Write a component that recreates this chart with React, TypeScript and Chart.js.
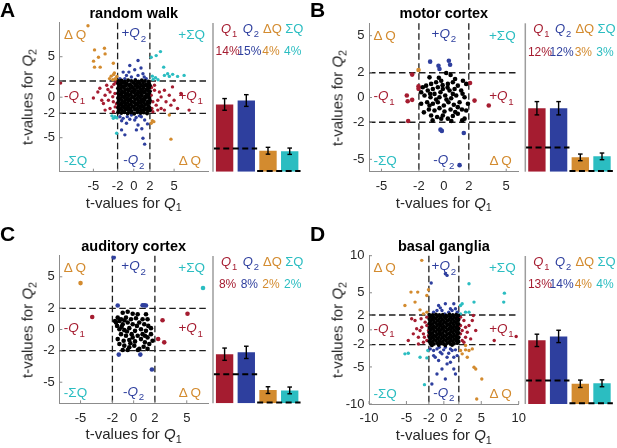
import React, { useEffect, useRef } from 'react';
import { Chart, registerables } from 'chart.js';
Chart.register(...registerables);

const FONT = '"Liberation Sans", Arial, Helvetica, sans-serif';
Chart.defaults.font.family = FONT;
const RED = '#A51C30';
const BLUE = '#2E3F9E';
const ORANGE = '#D38B2F';
const CYAN = '#2BBDC1';
const TEXT = '#262626';

type P = [number, number];

// ---------- shared ----------
const ticksSmall = [-5, -2, 0, 2, 5];
const ticksLarge = [-10, -5, -2, 0, 2, 5, 10];
const thresholds = [-2, 2];
const barCategories = ['Q1', 'Q2', 'ΔQ', 'ΣQ'];
const chanceQ = 4.75;
const chanceDQ = 0.15;

// ---------- A: random walk ----------
const blackA: P[] = [
  [-1.9, 2.0], [-1.5, 2.05], [-1.1, 1.95], [-0.7, 2.1], [-0.3, 2.0], [0.2, 2.05], [0.6, 1.95], [1.0, 2.1], [1.4, 2.0], [1.85, 1.95],
  [-1.95, 1.7], [-1.6, 1.65], [-1.25, 1.75], [-0.85, 1.7], [-0.45, 1.6], [-0.05, 1.75], [0.35, 1.65], [0.75, 1.7], [1.15, 1.75], [1.55, 1.6], [1.9, 1.7],
  [-1.8, 1.4], [-1.4, 1.35], [-1.0, 1.45], [-0.6, 1.4], [-0.2, 1.3], [0.2, 1.45], [0.55, 1.35], [0.95, 1.4], [1.35, 1.45], [1.75, 1.35], [2.0, 1.45],
  [-1.95, 1.1], [-1.6, 1.05], [-1.2, 1.15], [-0.8, 1.0], [-0.4, 1.1], [0.0, 1.05], [0.4, 1.15], [0.8, 1.05], [1.2, 1.1], [1.6, 1.0], [1.9, 1.15],
  [-1.85, 0.8], [-1.45, 0.75], [-1.05, 0.85], [-0.65, 0.8], [-0.25, 0.7], [0.15, 0.85], [0.55, 0.75], [0.95, 0.8], [1.35, 0.7], [1.7, 0.85], [2.0, 0.75],
  [-1.95, 0.5], [-1.55, 0.45], [-1.15, 0.55], [-0.75, 0.5], [-0.35, 0.4], [0.05, 0.55], [0.45, 0.45], [0.85, 0.5], [1.25, 0.55], [1.6, 0.4], [1.9, 0.5],
  [-1.8, 0.2], [-1.4, 0.15], [-1.0, 0.25], [-0.6, 0.2], [-0.2, 0.1], [0.2, 0.25], [0.6, 0.15], [1.0, 0.2], [1.4, 0.1], [1.8, 0.25],
  [-1.95, -0.1], [-1.6, -0.15], [-1.2, -0.05], [-0.8, -0.1], [-0.4, -0.2], [0.0, -0.05], [0.4, -0.15], [0.8, -0.1], [1.2, -0.2], [1.55, -0.05], [1.95, -0.1],
  [-1.85, -0.4], [-1.45, -0.45], [-1.05, -0.35], [-0.65, -0.4], [-0.25, -0.5], [0.15, -0.35], [0.55, -0.45], [0.95, -0.4], [1.35, -0.35], [1.75, -0.5], [2.0, -0.4],
  [-1.95, -0.7], [-1.55, -0.75], [-1.15, -0.65], [-0.75, -0.7], [-0.35, -0.8], [0.05, -0.65], [0.45, -0.75], [0.85, -0.7], [1.25, -0.65], [1.65, -0.8], [1.95, -0.7],
  [-1.8, -1.0], [-1.4, -1.05], [-1.0, -0.95], [-0.6, -1.0], [-0.2, -1.1], [0.2, -0.95], [0.6, -1.05], [1.0, -1.0], [1.4, -0.95], [1.8, -1.1],
  [-1.95, -1.3], [-1.6, -1.35], [-1.2, -1.25], [-0.8, -1.3], [-0.4, -1.4], [0.0, -1.25], [0.4, -1.35], [0.8, -1.3], [1.2, -1.25], [1.6, -1.4], [1.95, -1.3],
  [-1.85, -1.6], [-1.45, -1.65], [-1.05, -1.55], [-0.65, -1.6], [-0.25, -1.7], [0.15, -1.55], [0.55, -1.65], [0.95, -1.6], [1.35, -1.55], [1.75, -1.7], [2.0, -1.6],
  [-1.95, -1.9], [-1.55, -1.95], [-1.15, -1.85], [-0.75, -2.0], [-0.35, -1.9], [0.05, -2.05], [0.45, -1.85], [0.85, -1.95], [1.25, -1.9], [1.65, -2.0],
];
const redA: P[] = [
  [-9.06, 1.76], [-4.45, 0.65], [-3.55, 0.24], [-3.76, -0.78], [-3.14, -0.37], [-2.94, -1.39], [-2.73, 1.27], [-2.53, -1.8],
  [-3.35, 1.47], [-3.96, -0.37], [-2.33, 0.45], [-2.94, 0.65], [-2.53, -0.57], [-3.55, -1.59], [-5.0, -0.1], [-2.2, 1.85],
  [-2.3, -1.2], [-2.6, 0.05], [-4.2, 1.1], [-2.15, -0.8], [-3.2, 0.95], [-2.45, 1.6],
  [5.84, 0.45], [6.86, -1.59], [5.43, -1.39], [4.6, -0.98], [4.0, -0.57], [3.39, -1.39], [2.98, -0.37], [2.57, 0.86],
  [3.18, 0.65], [3.8, 0.86], [3.39, 0.04], [2.78, -0.98], [2.37, -1.8], [4.4, 0.24], [2.57, 1.47], [5.0, -0.37],
  [2.98, -1.59], [2.16, 0.24], [2.37, -0.57], [3.8, -1.59], [4.8, 1.27], [2.2, 1.2], [2.25, -1.4],
];
const blueA: P[] = [
  [0.53, 4.53], [-0.49, 3.92], [0.12, 3.39], [-1.31, 3.1], [1.14, 2.9], [-0.9, 2.69], [-0.29, 2.49], [0.53, 2.69],
  [-1.71, 2.29], [1.55, 2.29], [0.9, 3.6], [-1.1, 2.3], [0.2, 2.2], [1.3, 2.5], [-0.6, 3.1],
  [1.35, -5.8], [1.14, -5.06], [0.33, -4.04], [-1.51, -4.04], [-0.9, -3.22], [-0.49, -2.73], [0.12, -2.82], [0.53, -3.43],
  [-1.31, -2.61], [0.94, -2.41], [-0.29, -2.2], [-1.71, -2.41], [1.35, -2.82], [-1.1, -4.65], [0.7, -2.3], [-0.8, -2.4],
  [1.7, -3.3], [0.3, -2.5], [-1.5, -2.9], [1.0, -3.9],
];
const orangeA: P[] = [
  [-5.67, 8.82], [-4.86, 5.84], [-3.63, 6.04], [-3.55, 5.35], [-4.37, 4.94], [-4.98, 4.45], [-2.53, 4.2], [-4.86, 3.71],
  [-4.16, 3.71], [-2.8, 2.6], [-2.5, 2.8], [-2.3, 2.3], [-2.15, 2.1], [-3.0, 2.3], [-2.4, 3.0], [-2.1, 2.55], [-2.6, 2.15],
  [4.41, -2.2], [2.16, -3.22], [2.49, -3.02], [4.61, -5.18], [2.3, -2.9],
];
const cyanA: P[] = [
  [3.31, 5.63], [2.78, 5.14], [2.16, 4.94], [3.71, 3.71], [4.2, 2.9], [4.82, 2.82], [3.8, 2.69], [2.4, 2.2], [2.7, 2.4],
  [3.0, 2.15], [2.3, 2.6], [6.24, 2.69], [5.43, 2.57], [4.41, 2.57],
  [-2.53, -2.61], [-2.33, -2.41], [-2.12, -2.53], [-2.12, -4.45], [-2.7, -2.3],
];
const barsA = [13.8, 14.6, 4.3, 4.2];
const errA = [1.2, 1.2, 0.7, 0.65];
const pctA = ['14%', '15%', '4%', '4%'];

// ---------- B: motor cortex ----------
const blackB: P[] = [
  [0.19, 1.98], [0.54, 1.82], [-1.15, 1.63], [-1.82, 0.42], [-1.42, 0.96], [-1.02, 1.1], [-0.62, 1.23], [-0.21, 1.36],
  [0.32, 1.1], [0.72, 1.23], [1.12, 0.96], [1.53, 1.36], [1.79, 1.1], [-1.29, 0.56], [-0.88, 0.69], [-0.48, 0.83],
  [-0.08, 0.69], [0.46, 0.56], [0.86, 0.69], [1.39, 0.56], [-1.55, 0.16], [-1.07, 0.02], [-0.75, 0.29], [-0.35, 0.02],
  [0.11, 0.16], [0.59, -0.06], [0.99, 0.16], [1.66, 0.02], [-1.34, -0.38], [-0.88, -0.51], [-0.48, -0.38], [0.0, -0.65],
  [0.37, -0.38], [0.8, -0.59], [1.26, -0.38], [1.93, -0.51], [-1.2, -0.97], [-0.75, -1.05], [-0.35, -0.86], [0.05, -1.13],
  [0.54, -0.97], [0.91, -1.18], [1.45, -0.97], [-1.02, -1.45], [-0.54, -1.58], [-0.08, -1.45], [0.32, -1.71], [0.72, -1.5],
  [1.12, -1.32], [1.66, -1.71], [1.79, -1.05], [-1.82, -0.51], [-1.69, 0.83], [-0.27, 0.42], [0.21, -0.17], [-0.62, -0.17],
  [0.72, 0.29], [1.12, -0.78], [-1.15, -0.65], [-0.21, -1.71], [-0.4, 1.6], [0.9, 1.5], [-1.6, -1.2], [1.47, -1.85],
  [-0.9, -1.85], [0.6, -1.9], [0.3, 0.8], [-0.1, 1.0], [1.5, 0.3], [-1.1, 0.3],
];
const redB: P[] = [
  [-2.54, 1.85], [-2.03, 0.9], [-2.03, 0.7], [-2.97, 0.16], [-2.9, -0.3], [-2.54, -0.19], [-2.86, -1.9],
  [2.1, 1.17], [2.46, -0.25], [3.6, -0.65],
];
const blueB: P[] = [
  [-1.1, 2.9], [-0.43, 2.57], [-0.35, 2.3], [0.4, 2.97], [0.5, 2.65], [-0.27, -2.6], [-0.16, -2.7], [1.6, -2.87], [1.26, -5.47],
];
const orangeB: P[] = [[-2.03, 2.22]];
const cyanB: P[] = [];
const barsB = [12.4, 12.4, 2.8, 3.0];
const errB = [1.3, 1.3, 0.65, 0.65];
const pctB = ['12%', '12%', '3%', '3%'];

// ---------- C: auditory cortex ----------
const blackC: P[] = [
  [-1.03, 1.59], [-0.56, 1.69], [-0.09, 1.5], [0.38, 1.44], [1.16, 1.44], [-1.5, 1.13], [-1.66, 0.66], [-1.19, 0.97],
  [-0.72, 1.13], [-0.25, 0.97], [0.22, 1.06], [1.31, 0.97], [-1.56, 0.34], [-1.03, 0.5], [-0.56, 0.66], [-0.09, 0.5],
  [1.0, 0.5], [1.38, 0.34], [-1.34, 0.03], [-0.88, -0.06], [-0.41, 0.13], [0.13, -0.13], [0.69, 0.03], [1.16, -0.13],
  [1.63, 0.13], [-1.19, -0.44], [-0.72, -0.59], [-0.19, -0.44], [0.38, -0.59], [0.84, -0.44], [1.31, -0.75], [-1.5, -0.91],
  [-0.94, -1.06], [-0.41, -1.0], [0.13, -1.13], [0.69, -0.91], [1.06, -1.22], [1.78, -1.06], [-0.88, -1.53], [-0.41, -1.69],
  [0.06, -1.53], [0.53, -1.84], [0.94, -1.63], [1.47, -1.38], [-1.34, -1.38], [-0.56, -1.95], [0.4, -1.95], [-1.75, 0.81],
  [-1.34, 0.81], [-0.88, 0.88], [-1.13, 0.25], [-0.63, -0.19], [-0.09, -0.75], [0.53, 0.66], [1.06, -0.59], [1.63, -0.44],
  [0.84, 0.97], [0.31, 0.34], [-0.31, -1.31], [1.31, -1.84], [-1.03, -1.94],
];
const redC: P[] = [[-3.9, 1.19], [2.72, 0.88], [2.31, -0.9], [2.88, -1.22], [5.07, 1.5]];
const blueC: P[] = [
  [-1.88, 6.84], [-1.5, 2.28], [0.84, 2.3], [1.0, 2.3], [1.16, 2.28], [-1.4, -2.38], [0.63, -2.38], [1.72, -3.8],
];
const orangeC: P[] = [[-5.0, 4.4]];
const cyanC: P[] = [[6.53, 3.94]];
const barsC = [8.0, 8.3, 2.15, 2.1];
const errC = [1.0, 1.0, 0.55, 0.55];
const pctC = ['8%', '8%', '2%', '2%'];

// ---------- D: basal ganglia ----------
const blackD: P[] = [
  [-1.95, 2.05], [-1.5, 2.0], [-1.05, 2.1], [-0.6, 2.0], [-0.15, 2.05], [0.3, 1.95], [0.75, 2.1], [1.2, 2.0], [1.65, 2.05], [1.95, 1.95],
  [-1.8, 1.75], [-1.35, 1.7], [-0.9, 1.8], [-0.45, 1.7], [0.0, 1.75], [0.45, 1.8], [0.9, 1.7], [1.35, 1.75], [1.8, 1.8],
  [-1.95, 1.45], [-1.55, 1.4], [-1.1, 1.5], [-0.65, 1.45], [-0.2, 1.4], [0.25, 1.5], [0.7, 1.4], [1.15, 1.45], [1.6, 1.5], [1.98, 1.4],
  [-1.75, 1.15], [-1.3, 1.1], [-0.85, 1.2], [-0.4, 1.15], [0.05, 1.1], [0.5, 1.2], [0.95, 1.1], [1.4, 1.15], [1.85, 1.2],
  [-1.95, 0.85], [-1.5, 0.8], [-1.05, 0.9], [-0.6, 0.85], [-0.15, 0.8], [0.3, 0.9], [0.75, 0.8], [1.2, 0.85], [1.65, 0.9], [1.98, 0.8],
  [-1.8, 0.55], [-1.35, 0.5], [-0.9, 0.6], [-0.45, 0.55], [0.0, 0.5], [0.45, 0.6], [0.9, 0.5], [1.35, 0.55], [1.8, 0.6],
  [-1.95, 0.25], [-1.55, 0.2], [-1.1, 0.3], [-0.65, 0.25], [-0.2, 0.2], [0.25, 0.3], [0.7, 0.2], [1.15, 0.25], [1.6, 0.3], [1.98, 0.2],
  [-1.75, -0.05], [-1.3, -0.1], [-0.85, 0.0], [-0.4, -0.05], [0.05, -0.1], [0.5, 0.0], [0.95, -0.1], [1.4, -0.05], [1.85, 0.0],
  [-1.95, -0.35], [-1.5, -0.4], [-1.05, -0.3], [-0.6, -0.35], [-0.15, -0.4], [0.3, -0.3], [0.75, -0.4], [1.2, -0.35], [1.65, -0.3], [1.98, -0.4],
  [-1.8, -0.65], [-1.35, -0.7], [-0.9, -0.6], [-0.45, -0.65], [0.0, -0.7], [0.45, -0.6], [0.9, -0.7], [1.35, -0.65], [1.8, -0.6],
  [-1.95, -0.95], [-1.55, -1.0], [-1.1, -0.9], [-0.65, -0.95], [-0.2, -1.0], [0.25, -0.9], [0.7, -1.0], [1.15, -0.95], [1.6, -0.9], [1.98, -1.0],
  [-1.75, -1.25], [-1.3, -1.3], [-0.85, -1.2], [-0.4, -1.25], [0.05, -1.3], [0.5, -1.2], [0.95, -1.3], [1.4, -1.25], [1.85, -1.2],
  [-1.95, -1.55], [-1.5, -1.6], [-1.05, -1.5], [-0.6, -1.55], [-0.15, -1.6], [0.3, -1.5], [0.75, -1.6], [1.2, -1.55], [1.65, -1.5], [1.98, -1.6],
  [-1.8, -1.85], [-1.35, -1.9], [-0.9, -1.8], [-0.45, -1.85], [0.0, -1.9], [0.45, -1.8], [0.9, -1.9], [1.35, -1.85], [1.8, -1.8],
  [-1.6, -2.1], [-0.7, -2.05], [0.2, -2.1], [1.1, -2.05],
];
const redD: P[] = [
  [-3.85, 1.26], [-4.3, 1.49], [-4.75, -1.44], [-3.4, -0.99], [-3.18, -0.09], [-2.95, 0.36], [-2.73, -0.54], [-2.5, 1.04],
  [-2.27, -1.44], [-2.73, -1.67], [-3.63, 0.14], [-2.27, 1.71], [-2.05, -0.09], [-2.6, -0.99], [-4.08, -0.54], [-3.04, 1.49],
  [-2.27, 0.59], [-2.05, -0.77], [-3.4, -1.9],
  [6.73, -1.44], [9.66, -0.9], [3.94, 1.94], [3.8, 1.26], [3.36, 0.59], [2.9, -0.99], [2.45, -0.09], [2.68, 1.26],
  [3.13, -0.32], [2.45, -1.44], [2.23, 0.59], [2.9, 0.36], [2.68, -1.67], [3.58, -1.22], [2.23, 1.71], [4.26, -0.09], [2.23, -0.54],
];
const blueD: P[] = [
  [0.2, 7.57], [0.43, 7.34], [-1.69, 6.31], [-0.7, 3.29], [0.2, 3.51], [1.33, 3.51], [0.88, 2.84], [-0.25, 2.61],
  [-0.92, 2.61], [1.55, 2.84], [-1.37, 2.39], [0.65, 2.39], [1.78, 2.39], [-0.47, 2.97], [1.1, 2.61], [0.11, 2.16],
  [-1.37, -2.79], [-1.15, -3.69], [-0.25, -3.24], [0.43, -3.69], [1.33, -3.69], [0.88, -4.37], [1.33, -5.27], [-0.25, -5.27],
  [-0.92, -5.95], [0.2, -6.62], [-1.6, -7.3], [0.43, -4.59], [-0.7, -4.14], [1.55, -5.95], [-1.82, -2.57], [-0.92, -2.57],
  [-0.02, -2.7], [0.88, -2.57], [1.55, -2.7], [-0.47, -3.02], [0.65, -3.15], [1.1, -2.79], [-1.37, -3.47], [0.2, -2.34],
  [-0.61, -2.34], [1.78, -3.47],
];
const orangeD: P[] = [
  [-2.95, 9.37], [-2.05, 5.41], [-4.39, 5.09], [-3.49, 5.09], [-2.27, 4.64], [-3.85, 3.74], [-5.2, 3.29], [-3.18, 2.7],
  [-2.27, 2.39], [-2.73, 2.16],
  [2.23, -2.79], [2.9, -2.7], [3.36, -2.79], [3.8, -2.57], [4.03, -5.05], [4.26, -5.27], [5.07, -6.62], [4.39, -9.32],
  [3.13, -3.69], [2.45, -3.24], [2.9, -2.12],
];
const cyanD: P[] = [
  [3.36, 6.22], [8.09, 4.95], [8.0, 3.74], [4.03, 3.74], [2.45, 3.51], [2.9, 2.39], [3.36, 2.39], [2.23, 2.16], [2.23, 3.29],
  [-5.2, -3.24], [-4.75, -3.15], [-3.18, -3.69], [-2.27, -3.78], [-2.59, -7.39], [-2.14, -2.79],
];
const barsD = [12.9, 13.7, 4.1, 4.2];
const errD = [1.25, 1.25, 0.75, 0.7];
const pctD = ['13%', '14%', '4%', '4%'];

// ---------- drawing helpers ----------
type Seg = { t: string; it?: boolean; sub?: boolean };
type HAlign = 'left' | 'center' | 'right';

function drawSegs(ctx: CanvasRenderingContext2D, segs: Seg[], x: number, y: number, align: HAlign, size: number, color: string) {
  const f = (s: Seg) => `${s.it ? 'italic ' : ''}${s.sub ? (size * 0.72).toFixed(1) : size}px ${FONT}`;
  const ws = segs.map((s) => {
    ctx.font = f(s);
    return ctx.measureText(s.t).width + (s.it ? 0.8 : 0);
  });
  const total = ws.reduce((a, b) => a + b, 0);
  let cx = align === 'left' ? x : align === 'center' ? x - total / 2 : x - total;
  ctx.fillStyle = color;
  ctx.textAlign = 'left';
  ctx.textBaseline = 'middle';
  segs.forEach((s, i) => {
    ctx.font = f(s);
    ctx.fillText(s.t, cx, s.sub ? y + size * 0.4 : y);
    cx += ws[i];
  });
}

const qSub = (prefix: string, n: string): Seg[] => [{ t: prefix }, { t: 'Q', it: true }, { t: n, sub: true }];

type Quad = { segs: Seg[]; color: string; pos: string };
const quadLabels: Quad[] = [
  { segs: [{ t: 'Δ\u2009Q' }], color: ORANGE, pos: 'tl' },
  { segs: qSub('+', '2'), color: BLUE, pos: 'tc' },
  { segs: [{ t: '+ΣQ' }], color: CYAN, pos: 'tr' },
  { segs: qSub('-', '1'), color: RED, pos: 'ml' },
  { segs: qSub('+', '1'), color: RED, pos: 'mr' },
  { segs: [{ t: '-ΣQ' }], color: CYAN, pos: 'bl' },
  { segs: qSub('-', '2'), color: BLUE, pos: 'bc' },
  { segs: [{ t: 'Δ\u2009Q' }], color: ORANGE, pos: 'br' },
];

const legendSegs: Seg[][] = [qSub('', '1'), qSub('', '2'), [{ t: 'ΔQ' }], [{ t: 'ΣQ' }]];
const seriesColors = [RED, BLUE, ORANGE, CYAN];

function line(ctx: CanvasRenderingContext2D, x1: number, y1: number, x2: number, y2: number) {
  ctx.beginPath();
  ctx.moveTo(x1, y1);
  ctx.lineTo(x2, y2);
  ctx.stroke();
}

const scatterPlugin = {
  id: 'quadrants',
  beforeDatasetsDraw(chart: any) {
    const { ctx, chartArea: ca, scales } = chart;
    const xs = scales.x, ys = scales.y;
    ctx.save();
    ctx.strokeStyle = '#1e1e1e';
    ctx.lineWidth = 1.3;
    ctx.setLineDash([6.5, 3.5]);
    thresholds.forEach((v) => {
      const px = xs.getPixelForValue(v);
      line(ctx, px, ca.top, px, ca.bottom);
    });
    thresholds.forEach((v) => {
      const py = ys.getPixelForValue(v);
      line(ctx, ca.left, py, ca.right, py);
    });
    ctx.restore();
  },
  afterDatasetsDraw(chart: any) {
    const { ctx, chartArea: ca, scales } = chart;
    const xs = scales.x, ys = scales.y;
    ctx.save();
    // inward tick marks
    ctx.strokeStyle = '#8c8c8c';
    ctx.lineWidth = 1;
    xs.ticks.forEach((t: any) => {
      const px = xs.getPixelForValue(t.value);
      line(ctx, px, ca.bottom, px, ca.bottom - 3);
    });
    ys.ticks.forEach((t: any) => {
      const py = ys.getPixelForValue(t.value);
      line(ctx, ca.left, py, ca.left + 3, py);
    });
    const size = 13.5;
    quadLabels.forEach((q) => {
      let x = 0, y = 0, a: HAlign = 'left';
      const y0 = ys.getPixelForValue(0) - 1;
      const x0 = xs.getPixelForValue(0);
      switch (q.pos) {
        case 'tl': x = ca.left + 4.5; y = ca.top + 13; a = 'left'; break;
        case 'tc': x = x0; y = ca.top + 11; a = 'center'; break;
        case 'tr': x = ca.right - 3; y = ca.top + 13; a = 'right'; break;
        case 'ml': x = ca.left + 4.5; y = y0; a = 'left'; break;
        case 'mr': x = ca.right - 5; y = y0; a = 'right'; break;
        case 'bl': x = ca.left + 4.5; y = ca.bottom - 10; a = 'left'; break;
        case 'bc': x = x0; y = ca.bottom - 11; a = 'center'; break;
        case 'br': x = ca.right - 7; y = ca.bottom - 10; a = 'right'; break;
      }
      drawSegs(ctx, q.segs, x, y, a, size, q.color);
    });
    ctx.restore();
  },
};

type BarCfg = { values: number[]; errs: number[]; pct: string[] };
function makeBarPlugin(cfg: BarCfg) {
  return {
    id: 'barExtras',
    afterDatasetsDraw(chart: any) {
      const { ctx, chartArea: ca, scales } = chart;
      const xs = scales.x, ys = scales.y;
      ctx.save();
      // error bars
      ctx.strokeStyle = '#000';
      ctx.lineWidth = 1.4;
      cfg.values.forEach((v, i) => {
        const bx = xs.getPixelForValue(i);
        const y1 = ys.getPixelForValue(v - cfg.errs[i]);
        const y2 = ys.getPixelForValue(v + cfg.errs[i]);
        line(ctx, bx, y1, bx, y2);
        line(ctx, bx - 2.3, y1, bx + 2.3, y1);
        line(ctx, bx - 2.3, y2, bx + 2.3, y2);
      });
      // chance levels
      ctx.lineWidth = 2;
      ctx.setLineDash([6, 3.5]);
      const xm = xs.getPixelForValue(1.5);
      const yq = ys.getPixelForValue(chanceQ);
      line(ctx, ca.left, yq, xm, yq);
      const yd = ys.getPixelForValue(chanceDQ);
      line(ctx, xm, yd, ca.right, yd);
      ctx.setLineDash([]);
      // axis line
      ctx.strokeStyle = '#9d9d9d';
      ctx.lineWidth = 1.5;
      line(ctx, ca.left - 0.75, ca.top, ca.left - 0.75, ca.bottom);
      // legend and percentages
      legendSegs.forEach((segs, i) => {
        drawSegs(ctx, segs, xs.getPixelForValue(i) + 4.5, ca.top + 6, 'center', 13, seriesColors[i]);
      });
      cfg.pct.forEach((p, i) => {
        drawSegs(ctx, [{ t: p }], xs.getPixelForValue(i) + 3, ca.top + 29, 'center', 12, seriesColors[i]);
      });
      ctx.restore();
    },
  };
}

type PanelProps = {
  letter: string;
  title: string;
  ox: number;
  oy: number;
  L: number;
  R: number;
  T: number;
  B: number;
  barAxis: number;
  lim: number;
  ticks: number[];
  black: P[];
  red: P[];
  blue: P[];
  orange: P[];
  cyan: P[];
  radius: number;
  blackRadius: number;
  bars: number[];
  errs: number[];
  pct: string[];
  ymax: number;
};

function Sub({ n }: { n: string }) {
  return <span style={{ fontSize: '0.72em', position: 'relative', top: '0.35em' }}>{n}</span>;
}

function Panel(p: PanelProps) {
  const sRef = useRef<HTMLCanvasElement>(null);
  const bRef = useRef<HTMLCanvasElement>(null);

  const sW = Math.ceil(p.R + 14);
  const sH = Math.round(p.B + 26);
  const bLeft = Math.round(p.ox + p.barAxis - 2);
  const bTop = Math.round(p.oy + p.T);
  const bW = 97;
  const bH = Math.round(p.B - p.T + 3);
  const padLeft = p.ox + p.barAxis + 0.75 - bLeft;
  const catW = 21.7;
  const padRight = bW - padLeft - catW * 4;
  const padBottom = bTop + bH - (p.oy + p.B);
  const padTop = p.oy + p.T - bTop;

  useEffect(() => {
    const toPts = (arr: P[]) => arr.map(([x, y]) => ({ x, y }));
    const ds = (arr: P[], color: string, r: number) => ({
      data: toPts(arr),
      backgroundColor: color,
      borderWidth: 0,
      pointRadius: r,
      pointHoverRadius: r,
    });
    const tickFn = (vals: number[]) => (scale: any) => {
      scale.ticks = vals.map((v) => ({ value: v }));
    };
    const sc = new Chart(sRef.current!, {
      type: 'scatter',
      data: {
        datasets: [
          ds(p.black, '#000000', p.blackRadius),
          ds(p.red, RED, p.radius),
          ds(p.blue, BLUE, p.radius),
          ds(p.orange, ORANGE, p.radius),
          ds(p.cyan, CYAN, p.radius),
        ] as any,
      },
      options: {
        animation: false,
        responsive: false,
        maintainAspectRatio: false,
        events: [],
        layout: { padding: { left: 0, right: sW - p.R, top: p.T, bottom: 0 } },
        plugins: { legend: { display: false }, tooltip: { enabled: false } },
        scales: {
          x: {
            type: 'linear',
            min: -p.lim,
            max: p.lim,
            afterBuildTicks: tickFn(p.ticks),
            afterFit: (s: any) => {
              s.height = sH - p.B;
            },
            grid: { display: false, drawTicks: false },
            border: { display: true, color: '#8c8c8c', width: 1 },
            ticks: {
              autoSkip: false,
              maxRotation: 0,
              minRotation: 0,
              padding: 7,
              color: TEXT,
              font: { size: 13, family: FONT },
              callback: (v: any) => String(v),
            },
          },
          y: {
            type: 'linear',
            min: -p.lim,
            max: p.lim,
            afterBuildTicks: tickFn(p.ticks),
            afterFit: (s: any) => {
              s.width = p.L;
            },
            grid: { display: false, drawTicks: false },
            border: { display: true, color: '#8c8c8c', width: 1 },
            ticks: {
              autoSkip: false,
              padding: 4.5,
              color: TEXT,
              font: { size: 13, family: FONT },
              callback: (v: any) => String(v),
            },
          },
        },
      } as any,
      plugins: [scatterPlugin as any],
    });

    const bc = new Chart(bRef.current!, {
      type: 'bar',
      data: {
        labels: barCategories,
        datasets: [
          {
            data: p.bars,
            backgroundColor: seriesColors,
            borderWidth: 0,
            barPercentage: 0.8,
            categoryPercentage: 1,
          },
        ],
      },
      options: {
        animation: false,
        responsive: false,
        maintainAspectRatio: false,
        events: [],
        layout: { padding: { left: padLeft, right: padRight, top: padTop, bottom: padBottom } },
        plugins: { legend: { display: false }, tooltip: { enabled: false } },
        scales: {
          x: { display: false },
          y: { display: false, min: 0, max: p.ymax },
        },
      } as any,
      plugins: [makeBarPlugin({ values: p.bars, errs: p.errs, pct: p.pct }) as any],
    });
    return () => {
      sc.destroy();
      bc.destroy();
    };
  }, []);

  const cx = p.ox + (p.L + p.R) / 2;
  return (
    <>
      <canvas
        ref={sRef}
        width={sW}
        height={sH}
        style={{ position: 'absolute', left: p.ox, top: p.oy, width: sW, height: sH }}
      />
      <canvas
        ref={bRef}
        width={bW}
        height={bH}
        style={{ position: 'absolute', left: bLeft, top: bTop, width: bW, height: bH }}
      />
      <div
        style={{
          position: 'absolute',
          left: p.ox + (p.letter === 'A' || p.letter === 'C' ? 0 : 2),
          top: p.oy - 1,
          fontSize: 21,
          fontWeight: 'bold',
          lineHeight: '21px',
          color: '#000',
        }}
      >
        {p.letter}
      </div>
      <div
        style={{
          position: 'absolute',
          left: cx,
          top: p.oy + p.T - 10,
          transform: 'translate(-50%,-50%)',
          fontSize: 14.5,
          fontWeight: 'bold',
          whiteSpace: 'nowrap',
          lineHeight: '17px',
          color: '#000',
        }}
      >
        {p.title}
      </div>
      <div
        style={{
          position: 'absolute',
          left: p.ox + p.L - 31.5,
          top: p.oy + (p.T + p.B) / 2,
          transform: 'translate(-50%,-50%) rotate(-90deg)',
          fontSize: 15,
          whiteSpace: 'nowrap',
          lineHeight: '18px',
          color: TEXT,
        }}
      >
        t-values for <i>Q</i>
        <Sub n="2" />
      </div>
      <div
        style={{
          position: 'absolute',
          left: cx,
          top: p.oy + p.B + 31,
          transform: 'translate(-50%,-50%)',
          fontSize: 15,
          whiteSpace: 'nowrap',
          lineHeight: '18px',
          color: TEXT,
        }}
      >
        t-values for <i>Q</i>
        <Sub n="1" />
      </div>
    </>
  );
}

const panels: PanelProps[] = [
  {
    letter: 'A', title: 'random walk', ox: 0, oy: 0, L: 59.5, R: 208, T: 22.7, B: 171.7, barAxis: 213, lim: 9.2,
    ticks: ticksSmall, black: blackA, red: redA, blue: blueA, orange: orangeA, cyan: cyanA, radius: 1.7, blackRadius: 2,
    bars: barsA, errs: errA, pct: pctA, ymax: 30.5,
  },
  {
    letter: 'B', title: 'motor cortex', ox: 308, oy: 0, L: 61, R: 210.7, T: 23.3, B: 171.7, barAxis: 217.3, lim: 6,
    ticks: ticksSmall, black: blackB, red: redB, blue: blueB, orange: orangeB, cyan: cyanB, radius: 2.3, blackRadius: 2.3,
    bars: barsB, errs: errB, pct: pctB, ymax: 29,
  },
  {
    letter: 'C', title: 'auditory cortex', ox: 0, oy: 224, L: 59.3, R: 208, T: 31.7, B: 179.3, barAxis: 213, lim: 7,
    ticks: ticksSmall, black: blackC, red: redC, blue: blueC, orange: orangeC, cyan: cyanC, radius: 2.3, blackRadius: 2.3,
    bars: barsC, errs: errC, pct: pctC, ymax: 24,
  },
  {
    letter: 'D', title: 'basal ganglia', ox: 308, oy: 224, L: 61, R: 210.7, T: 31.7, B: 180, barAxis: 217.3, lim: 10,
    ticks: ticksLarge, black: blackD, red: redD, blue: blueD, orange: orangeD, cyan: cyanD, radius: 1.7, blackRadius: 1.9,
    bars: barsD, errs: errD, pct: pctD, ymax: 30,
  },
];

export default function App() {
  return (
    <div
      style={{
        position: 'fixed',
        left: 0,
        top: 0,
        width: 617,
        height: 448,
        overflow: 'hidden',
        background: '#ffffff',
        fontFamily: FONT,
      }}
    >
      {panels.map((p) => (
        <Panel key={p.letter} {...p} />
      ))}
    </div>
  );
}
